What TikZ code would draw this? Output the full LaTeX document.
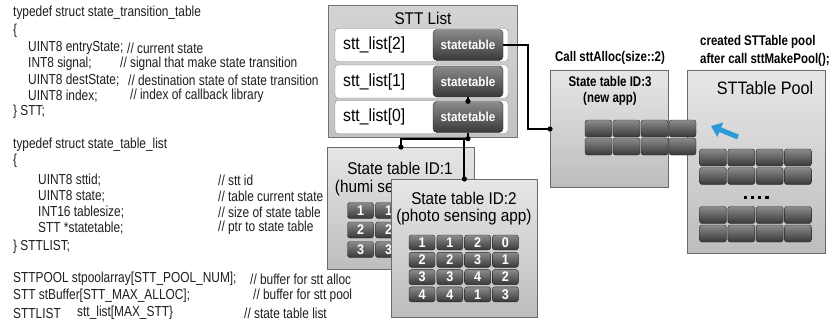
\documentclass[tikz,border=0pt]{standalone}
\usepackage{fontspec}
\setmainfont[FakeStretch=0.9]{Liberation Sans}
\newfontfamily\narrowsans[FakeStretch=0.82]{Liberation Sans}
\usetikzlibrary{arrows.meta}

\definecolor{keytop}{HTML}{8C8C8C}
\definecolor{keybot}{HTML}{383838}
\definecolor{paneltop}{HTML}{E6E6E6}
\definecolor{panelbot}{HTML}{BDBDBD}
\definecolor{panelline}{HTML}{6A6A6A}
\definecolor{arrowblue}{HTML}{2B9AD6}
\definecolor{codegray}{HTML}{1E1E1E}

\newcommand{\codesize}{\narrowsans\fontsize{14.5}{16}\selectfont}
\newcommand{\titlesize}{\fontsize{17}{20}\selectfont}
\newcommand{\notesize}{\narrowsans\fontsize{14}{16}\selectfont\bfseries}

\tikzset{
  code/.style={anchor=west, inner sep=0pt, font=\codesize, text=codegray},
  panel/.style={draw=panelline, line width=0.8pt, top color=paneltop, bottom color=panelbot,
    anchor=north west, inner sep=0pt},
  key/.style={draw=black!85, rounded corners=2.5pt, top color=keytop, bottom color=keybot,
    text=white, font=\fontsize{14}{14}\selectfont\bfseries, minimum width=26pt,
    minimum height=15pt, inner sep=0pt},
  rowbox/.style={draw=black!45, fill=white, rounded corners=3pt, minimum width=173pt,
    minimum height=33pt, inner sep=0pt},
  tabbtn/.style={key, minimum width=70pt, minimum height=31pt, rounded corners=4pt,
    font=\fontsize{13}{13}\selectfont\bfseries},
  link/.style={line width=2pt},
}

\begin{document}
\begin{tikzpicture}[x=1pt, y=-1pt]

    \fill[white] (0,0) rectangle (835,333);
    \useasboundingbox (0,0) rectangle (835,333);

    %code: state transition table
    \node[code] (c1) at (13,13)  {typedef struct state\_transition\_table};
    \node[code] (c2) at (13,31)  {\{};
    \node[code] (c3) at (28,48)  {UINT8 entryState;};
    \node[code] (m3) at (127,48) {// current state};
    \node[code] (c4) at (28,64)  {INT8 signal;};
    \node[code] (m4) at (120,64) {// signal that make state transition};
    \node[code] (c5) at (28,80)  {UINT8 destState;};
    \node[code] (m5) at (128,80) {// destination state of state transition};
    \node[code] (c6) at (28,96)  {UINT8 index;};
    \node[code] (m6) at (130,96) {// index of callback library};
    \node[code] (c7) at (13,112) {\} STT;};

    %code: state table list
    \node[code] (d1) at (13,145)  {typedef struct state\_table\_list};
    \node[code] (d2) at (13,161)  {\{};
    \node[code] (d3) at (38,180)  {UINT8 sttid;};
    \node[code] (n3) at (218,180) {// stt id};
    \node[code] (d4) at (38,196)  {UINT8 state;};
    \node[code] (n4) at (218,196) {// table current state};
    \node[code] (d5) at (38,212)  {INT16 tablesize;};
    \node[code] (n5) at (218,212) {// size of state table};
    \node[code] (d6) at (38,228)  {STT *statetable;};
    \node[code] (n6) at (218,228) {// ptr to state table};
    \node[code] (d7) at (13,247)  {\} STTLIST;};

    %code: buffers
    \node[code] (e1) at (13,279)  {STTPOOL stpoolarray[STT\_POOL\_NUM];};
    \node[code] (o1) at (250,279) {// buffer for stt alloc};
    \node[code] (e2) at (13,296)  {STT stBuffer[STT\_MAX\_ALLOC];};
    \node[code] (o2) at (253,296) {// buffer for stt pool};
    \node[code] (e3) at (13,313)  {STTLIST};
    \node[code] (f3) at (77,313)  {stt\_list[MAX\_STT\}};
    \node[code] (o3) at (244,313) {// state table list};

    %STT list
    \node[panel, draw=black!55, top color=black!17, bottom color=black!24,
          minimum width=189pt, minimum height=132pt] (sttlist) at (328,5) {};
    \node[font=\titlesize] (listtitle) at (423,18) {STT List};
    \foreach \i/\y in {2/45,1/81.5,0/117} {
        \node[rowbox] (row\i) at (421.5,\y) {};
        \node[anchor=west, inner sep=0pt, font=\fontsize{17.5}{20}\selectfont] (lbl\i) at (343,\y) {stt\_list[\i]};
        \node[tabbtn] (st\i) at (468,\y) {statetable};
    }

    %state table 1
    \node[panel, minimum width=147pt, minimum height=122pt] (id1) at (327,147) {};
    \node[font=\titlesize] (id1a) at (400,168) {State table ID:1};
    \node[font=\titlesize] (id1b) at (400,188) {(humi sensing app)};
    \foreach \va/\vb [count=\r from 0] in {1/1,2/2,3/3} {
        \node[key, minimum height=16pt] (t1-\r-0) at (360.5,{210.5+19.5*\r}) {\va};
        \node[key, minimum height=16pt] (t1-\r-1) at (388.5,{210.5+19.5*\r}) {\vb};
    }

    %state table 2
    \node[panel, minimum width=146pt, minimum height=138pt] (id2) at (391,179) {};
    \node[font=\titlesize] (id2a) at (464,198) {State table ID:2};
    \node[font=\titlesize] (id2b) at (464,217) {(photo sensing app)};
    \foreach \va/\vb/\vc/\vd [count=\r from 0] in {1/1/2/0,2/2/3/1,3/3/4/2,4/4/1/3} {
        \node[key] (t2-\r-0) at (422,{242.5+17.3*\r})   {\va};
        \node[key] (t2-\r-1) at (449.8,{242.5+17.3*\r}) {\vb};
        \node[key] (t2-\r-2) at (477.6,{242.5+17.3*\r}) {\vc};
        \node[key] (t2-\r-3) at (505.4,{242.5+17.3*\r}) {\vd};
    }

    %pool
    \node[font=\notesize, anchor=west, inner sep=0pt] (note1) at (700,42) {created STTable pool};
    \node[font=\notesize, anchor=west, inner sep=0pt] (note2) at (700,60) {after call sttMakePool();};
    \node[panel, minimum width=138pt, minimum height=183pt] (pool) at (687,70) {};
    \node[font=\fontsize{18}{20}\selectfont] (pooltitle) at (765,88) {STTable Pool};
    \foreach \r/\y in {0/157.5,1/176,2/215,3/233.5} {
        \foreach \c in {0,...,3} {
            \node[key, minimum width=27pt, minimum height=17pt] (p-\r-\c) at ({713+28.3*\c},\y) {};
        }
    }
    \foreach \k in {0,...,3} {
        \fill ({743.5+7.3*\k},195.5) rectangle ++(3.2,3.2);
    }

    %state table 3
    \node[font=\notesize] (allocnote) at (610,58) {Call sttAlloc(size::2)};
    \node[panel, minimum width=118pt, minimum height=117pt] (id3) at (550,70) {};
    \node[font=\notesize] (id3a) at (610,82) {State table ID:3};
    \node[font=\notesize] (id3b) at (610,99) {(new app)};
    \foreach \r in {0,1} {
        \foreach \c in {0,...,3} {
            \node[key, minimum width=27pt, minimum height=17pt] (t3-\r-\c) at ({598.5+28*\c},{128.5+18*\r}) {};
        }
    }

    %blue arrow
    \coordinate (atail) at (738,137);
    \coordinate (ahead) at (711,126);
    \draw[arrowblue, line width=5pt, -{Triangle[length=10pt,width=15pt]}] (atail) -- (ahead);

    %links
    \coordinate (in3) at (550,129);
    \draw[link] (st2.east) -- ++(25,0) |- (in3);
    \fill (in3) circle (2.6pt);

    \draw[link] (st1.south) -- (st0.north);
    \fill (st0.north) circle (2.6pt);
    \draw[link] (st0.south) -- ++(0,6) coordinate (j);
    \fill (j) circle (2.6pt);
    \draw[link] (j) -| (id1.north);
    \draw[link] (j) -| (id2.north);
    \fill (id1.north) circle (2.6pt);
    \fill (id2.north) circle (2.6pt);

\end{tikzpicture}
\end{document}
